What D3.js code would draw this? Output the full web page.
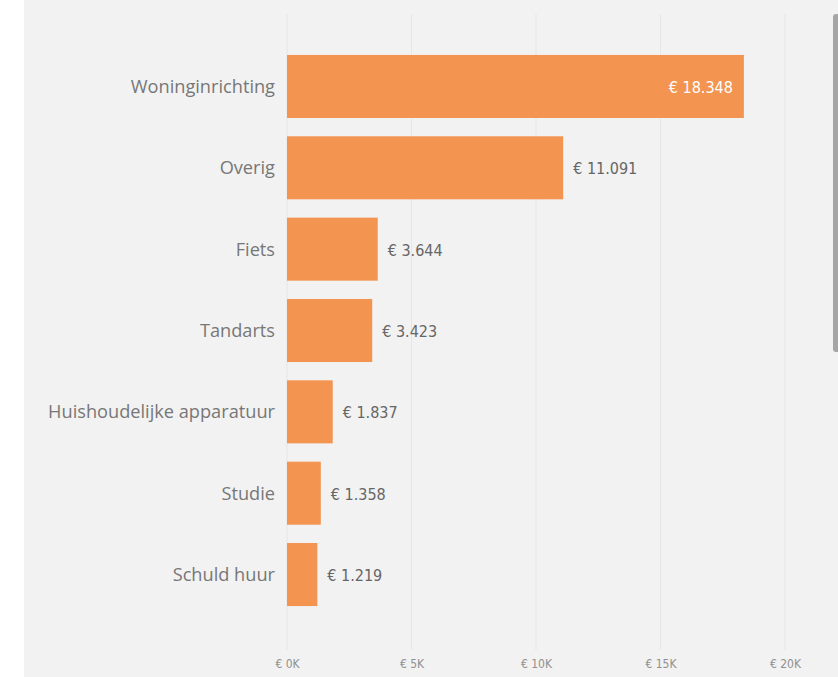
<!DOCTYPE html>
<html>
<head>
<meta charset="utf-8">
<script src="https://cdn.jsdelivr.net/npm/d3@7"></script>
<style>
  body { margin: 0; background: #ffffff; }
  svg { display: block; }
</style>
</head>
<body>
<svg id="chart" width="838" height="677"></svg>
<script>
// categories and values (euro)
var categories = ["Woninginrichting", "Overig", "Fiets", "Tandarts", "Huishoudelijke apparatuur", "Studie", "Schuld huur"];
var values = [18348, 11091, 3644, 3423, 1837, 1358, 1219];
var ticks = [0, 5000, 10000, 15000, 20000];

var svg = d3.select("#chart");
var W = 838, H = 677;

// panel background
svg.append("rect")
    .attr("x", 24).attr("y", 0)
    .attr("width", W - 24).attr("height", H)
    .attr("fill", "#f2f2f2");

var x = d3.scaleLinear().domain([0, 20000]).range([287, 785]);
var y = d3.scaleBand().domain(categories).range([46, 615]).paddingInner(0.225).paddingOuter(0.11);

// gridlines
svg.append("g").selectAll("line")
    .data(ticks)
    .enter().append("line")
    .attr("x1", function(d) { return x(d); })
    .attr("x2", function(d) { return x(d); })
    .attr("y1", 14).attr("y2", 650)
    .attr("stroke", "#e6e6e6")
    .attr("stroke-width", 1);

// x axis labels
var fmtK = function(d) { return "€ " + (d / 1000) + "K"; };
var xAxis = d3.axisBottom(x).tickValues(ticks).tickFormat(fmtK).tickSize(0).tickPadding(0);
var gx = svg.append("g").attr("transform", "translate(0,659)").call(xAxis);
gx.select(".domain").remove();
gx.selectAll("text")
    .attr("fill", "#909090")
    .style("font-family", "'DejaVu Sans Condensed', 'Roboto', sans-serif")
    .style("font-size", "12px");

// bars
svg.append("g").selectAll("rect")
    .data(values)
    .enter().append("rect")
    .attr("x", x(0))
    .attr("y", function(d, i) { return y(categories[i]); })
    .attr("width", function(d) { return x(d) - x(0); })
    .attr("height", y.bandwidth())
    .attr("fill", "#f39551");

// category labels
svg.append("g").selectAll("text")
    .data(categories)
    .enter().append("text")
    .attr("x", x(0) - 12)
    .attr("y", function(d) { return y(d) + y.bandwidth() / 2; })
    .attr("dy", "0.35em")
    .attr("text-anchor", "end")
    .attr("fill", "#777777")
    .style("font-family", "'Segoe UI', 'Open Sans', sans-serif")
    .style("font-size", "18.2px")
    .text(function(d) { return d; });

// value labels
var fmtEur = function(d) { return "€ " + d3.format(",")(d).replace(/,/g, "."); };
svg.append("g").selectAll("text")
    .data(values)
    .enter().append("text")
    .attr("x", function(d, i) { return i == 0 ? x(d) - 11 : x(d) + 10; })
    .attr("y", function(d, i) { return y(categories[i]) + y.bandwidth() / 2 + 1; })
    .attr("dy", "0.35em")
    .attr("text-anchor", function(d, i) { return i == 0 ? "end" : "start"; })
    .attr("fill", function(d, i) { return i == 0 ? "#ffffff" : "#666666"; })
    .style("font-family", "'DejaVu Sans Condensed', 'Roboto', sans-serif")
    .style("font-size", "16px")
    .text(fmtEur);

// scrollbar
svg.append("rect")
    .attr("x", 833).attr("y", 14)
    .attr("width", 8).attr("height", 338)
    .attr("rx", 3)
    .attr("fill", "#a6a6a6");
</script>
</body>
</html>
